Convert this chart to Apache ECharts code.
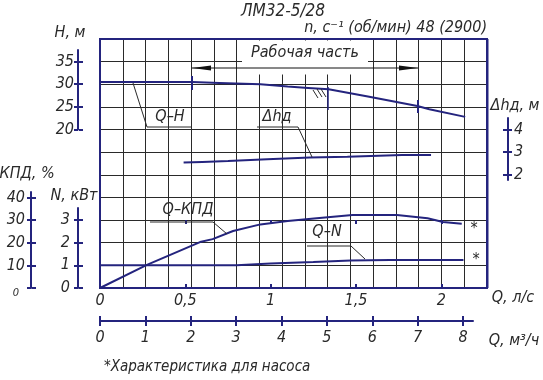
<!DOCTYPE html>
<html><head><meta charset="utf-8">
<script src="https://cdn.jsdelivr.net/npm/echarts@6/dist/echarts.min.js"></script>
<style>html,body{margin:0;padding:0;background:#fff}#c{width:543px;height:380px}</style>
</head><body><div id="c"></div>
<script>
// ---- data ----
const qhQ = [0, 0.54, 0.70, 0.94, 1.10, 1.22, 1.34, 1.57, 1.86, 1.93, 2.14];
const qhH = [30.5, 30.5, 30.3, 30.0, 29.5, 29.2, 28.9, 27.3, 25.2, 24.5, 22.8];
const dhQ = [0.49, 0.60, 0.75, 0.98, 1.23, 1.45, 1.77, 1.94];
const dhV = [2.54, 2.57, 2.61, 2.69, 2.76, 2.80, 2.88, 2.88];
const effQ = [0, 0.275, 0.586, 0.66, 0.78, 0.94, 1.10, 1.27, 1.48, 1.74, 1.92, 2.01, 2.12];
const effV = [0, 10.2, 20.3, 21.6, 25.2, 28.1, 29.6, 30.8, 32.2, 32.2, 30.8, 29.2, 28.4];
const nQ = [0, 0.80, 1.0, 1.25, 1.47, 1.70, 2.13];
const nV = [1.0, 1.0, 1.08, 1.15, 1.22, 1.24, 1.24];
const qLsTicks = [0, 0.5, 1, 1.5, 2];
const qM3Ticks = [0, 1, 2, 3, 4, 5, 6, 7, 8];
const hTicks = [20, 25, 30, 35];
const effTicks = [0, 10, 20, 30, 40];
const nTicks = [0, 1, 2, 3];
const dhTicks = [2, 3, 4];

// ---- styling ----
const NAVY = '#24247e';
const INK = '#2a2a2a';
const FF = '"Liberation Sans Narrow","DejaVu Sans Condensed","Liberation Sans",sans-serif';
const font = (s) => 'italic ' + s + 'px ' + FF;
const lab = (extra) => Object.assign({fontFamily: FF, fontStyle: 'italic', color: INK, fontSize: 16}, extra);
const zip = (a, b) => a.map((v, i) => [v, b[i]]);
const P = {l: 100, t: 39, w: 387, h: 249};

const chart = echarts.init(document.getElementById('c'), null, {renderer: 'canvas'});

const hidX = (g) => ({gridIndex: g, type: 'value', min: 0, max: 1, show: false});
const hidY = (g) => ({gridIndex: g, type: 'value', min: 0, max: 1, show: false});

function vAxis(g, pos, min, max, ticks, labels, margin, extraLabel) {
  return {
    gridIndex: g, type: 'value', position: pos, min: min, max: max,
    axisLine: {show: labels, onZero: false, lineStyle: {color: NAVY, width: 2}},
    axisTick: {show: true, customValues: ticks, length: 4, lineStyle: {color: NAVY, width: 2}},
    axisLabel: labels ? lab(Object.assign({customValues: ticks, margin: margin}, extraLabel || {})) : {show: false},
    splitLine: {show: false}
  };
}

const option = {
  animation: false,
  backgroundColor: '#fff',
  grid: [
    {left: P.l, top: P.t, width: P.w, height: P.h},        // 0 main plot
    {left: 78, top: 50, width: 1, height: 79.5},            // 1 H axis
    {left: 31, top: 192, width: 1, height: 96},             // 2 KPD axis
    {left: 78, top: 208, width: 1, height: 80},             // 3 N axis
    {left: 507, top: 118, width: 1, height: 62},            // 4 dh axis
    {left: 100, top: 320, width: 373, height: 1},           // 5 m3/h axis
    {left: P.l, top: P.t + P.h - 4, width: P.w, height: 4}  // 6 inner ticks of Q l/s
  ],
  xAxis: [
    {gridIndex: 0, type: 'value', position: 'top', min: 0, max: 17, interval: 1,
     axisLine: {show: false}, axisTick: {show: false}, axisLabel: {show: false},
     splitLine: {show: true, lineStyle: {color: INK, width: 1}}},
    {gridIndex: 0, type: 'value', position: 'bottom', min: 0, max: 2.268,
     axisLine: {show: false},
     axisTick: {show: true, customValues: [0.5, 1, 1.5, 2], length: 4, lineStyle: {color: NAVY, width: 2}},
     axisLabel: lab({customValues: qLsTicks, margin: 5, formatter: v => String(v).replace('.', ',')}),
     splitLine: {show: false}},
    hidX(1), hidX(2), hidX(3), hidX(4),
    {gridIndex: 5, type: 'value', position: 'bottom', min: 0, max: 8.22,
     axisLine: {show: true, onZero: false, lineStyle: {color: NAVY, width: 2}},
     axisTick: {show: true, customValues: qM3Ticks, length: 5, lineStyle: {color: NAVY, width: 2}},
     axisLabel: lab({customValues: qM3Ticks, margin: 9}),
     splitLine: {show: false}},
    {gridIndex: 5, type: 'value', position: 'top', min: 0, max: 8.22,
     axisLine: {show: false},
     axisTick: {show: true, customValues: qM3Ticks, length: 5, lineStyle: {color: NAVY, width: 2}},
     axisLabel: {show: false}, splitLine: {show: false}},
    {gridIndex: 6, type: 'value', position: 'bottom', min: 0, max: 2.268,
     axisLine: {show: false},
     axisTick: {show: true, inside: true, customValues: [0.5, 1, 1.5, 2], length: 4, lineStyle: {color: NAVY, width: 2}},
     axisLabel: {show: false}, splitLine: {show: false}}
  ],
  yAxis: [
    {gridIndex: 0, type: 'value', min: 0, max: 11, interval: 1,
     axisLine: {show: false}, axisTick: {show: false}, axisLabel: {show: false},
     splitLine: {show: true, lineStyle: {color: INK, width: 1}}},
    {gridIndex: 0, type: 'value', min: -15, max: 40, show: false},  // 1 H
    {gridIndex: 0, type: 'value', min: 0, max: 110, show: false},   // 2 KPD
    {gridIndex: 0, type: 'value', min: 0, max: 11, show: false},    // 3 N
    {gridIndex: 0, type: 'value', min: -3, max: 8, show: false},    // 4 dh
    vAxis(1, 'left', 20, 37.56, hTicks, true, 4),
    vAxis(1, 'right', 20, 37.56, hTicks, false),
    vAxis(2, 'left', 0, 42.4, effTicks, true, 6, {
      formatter: v => v === 0 ? '{s|0}' : String(v),
      rich: {s: {fontFamily: FF, fontStyle: 'italic', fontSize: 11, color: INK, padding: [10, 6, 0, 0]}}}),
    vAxis(2, 'right', 0, 42.4, effTicks, false),
    vAxis(3, 'left', 0, 3.53, nTicks, true, 8),
    vAxis(3, 'right', 0, 3.53, nTicks, false),
    vAxis(4, 'left', 1.77, 4.51, dhTicks, false),
    vAxis(4, 'right', 1.77, 4.51, dhTicks, true, 6),
    hidY(5), hidY(6)
  ],
  series: [
    {name: 'Q-H', type: 'line', xAxisIndex: 1, yAxisIndex: 1, data: zip(qhQ, qhH),
     showSymbol: false, lineStyle: {color: NAVY, width: 2}, z: 5},
    {name: 'dh', type: 'line', xAxisIndex: 1, yAxisIndex: 4, data: zip(dhQ, dhV),
     showSymbol: false, lineStyle: {color: NAVY, width: 2}, z: 5},
    {name: 'Q-KPD', type: 'line', xAxisIndex: 1, yAxisIndex: 2, data: zip(effQ, effV),
     showSymbol: false, lineStyle: {color: NAVY, width: 2}, z: 5},
    {name: 'Q-N', type: 'line', xAxisIndex: 1, yAxisIndex: 3, data: zip(nQ, nV),
     showSymbol: false, lineStyle: {color: NAVY, width: 2}, z: 5}
  ],
  graphic: []
};

const G = option.graphic;
const T = (text, x, y, size, align, extra) => G.push(Object.assign({type: 'text', z: 30,
  style: {text: text, x: x, y: y, font: font(size || 16), fill: INK, align: align || 'center', verticalAlign: 'middle'}}, extra || {}));
const L = (pts, color, w, z) => G.push({type: 'polyline', z: z || 20, shape: {points: pts},
  style: {stroke: color || INK, lineWidth: w || 1, fill: null}});

// plot frame (right edge drawn a bit heavier, as in the reference)
G.push({type: 'rect', z: 40, shape: {x: P.l, y: P.t, width: P.w, height: P.h}, style: {fill: null, stroke: NAVY, lineWidth: 2}});
L([[P.l + P.w + 0.5, P.t], [P.l + P.w + 0.5, P.t + P.h]], NAVY, 2, 41);
// working zone label area
G.push({type: 'rect', z: 8, shape: {x: 242, y: 40.5, width: 126, height: 34}, style: {fill: '#fff'}});
T('Рабочая часть', 305, 53, 16);
L([[192, 68], [418, 68]], '#111', 1);
G.push({type: 'polygon', z: 21, shape: {points: [[192, 68], [211, 65.5], [211, 70.5]]}, style: {fill: '#111'}});
G.push({type: 'polygon', z: 21, shape: {points: [[418, 68], [399, 65.5], [399, 70.5]]}, style: {fill: '#111'}});
L([[192, 76], [192, 90]], NAVY, 2);
L([[418, 100], [418, 113]], NAVY, 2);
L([[328, 87], [328, 110]], NAVY, 1.5);
L([[313, 90], [318, 98]], INK, 1);
L([[317, 89], [322, 97]], INK, 1);
L([[321, 89], [326, 97]], INK, 1);

// leaders
L([[133, 83], [147, 127], [192, 127]]);
L([[257, 127], [298, 127], [312, 157]]);
L([[150, 222], [213, 222], [227, 234]]);
L([[307, 246], [351, 246], [365, 259]]);
T('Q–H', 170, 117, 16);
T('Δhд', 277, 117, 16);
T('Q–КПД', 188, 210, 16);
T('Q–N', 327, 232, 16);
T('*', 474, 229, 16);
T('*', 476, 260, 16);

// axis titles
T('H, м', 70, 33, 16);
T('КПД, %', 27, 174, 16);
T('N, кВт', 74, 196, 16);
T('Δhд, м', 515, 106, 16);
T('Q, л/с', 513, 298, 16);
T('Q, м³/ч', 514, 341, 16);
T('*Характеристика для насоса', 104, 367, 15, 'left');
T('ЛМ32-5/28', 283, 12, 17);
T('n, с⁻¹ (об/мин) 48 (2900)', 487, 28, 16, 'right');

chart.setOption(option);
</script>
</body></html>
